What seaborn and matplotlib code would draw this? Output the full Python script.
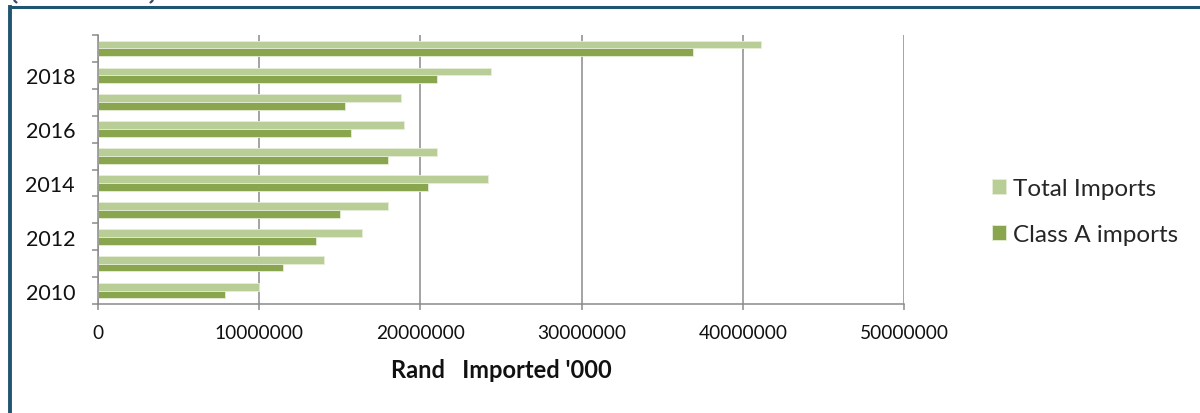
import matplotlib
matplotlib.use("Agg")
import matplotlib.pyplot as plt
from matplotlib.lines import Line2D
from matplotlib.ticker import FixedLocator, StrMethodFormatter
import numpy as np
import pandas as pd
import seaborn as sns

# Import values (Rand '000), listed from 2019 down to 2010
years = [2019, 2018, 2017, 2016, 2015, 2014, 2013, 2012, 2011, 2010]
total_imports = [41100000, 24400000, 18800000, 19000000, 21000000,
                 24200000, 18000000, 16400000, 14000000, 10000000]
class_a_imports = [36900000, 21000000, 15300000, 15700000, 18000000,
                   20500000, 15000000, 13500000, 11500000, 7900000]
series_names = ["Total Imports", "Class A imports"]
year_labels = ["", "2018", "", "2016", "", "2014", "", "2012", "", "2010"]
x_ticks = [0, 10000000, 20000000, 30000000, 40000000, 50000000]
x_title = "Rand   Imported '000"

df = pd.DataFrame({
    "year": [str(y) for y in years] * 2,
    "series": [series_names[0]] * len(years) + [series_names[1]] * len(years),
    "value": total_imports + class_a_imports,
})

sns.set_theme(style="white")
plt.rcParams["font.family"] = ["Lato", "DejaVu Sans"]

W, H = 1200, 414
fig = plt.figure(figsize=(W / 100, H / 100), dpi=100)
ax = fig.add_axes([98 / W, 1 - 305 / H, (904 - 98) / W, (305 - 36) / H])

palette = {"Total Imports": "#b9ce96", "Class A imports": "#89a64f"}
sns.barplot(data=df, y="year", x="value", hue="series",
            order=[str(y) for y in years], hue_order=series_names,
            palette=palette, orient="h", width=0.58, ax=ax,
            edgecolor="#e6eed9", linewidth=0.6, saturation=1, legend=True)

grid_c = "#8a8a8a"
ax.set_xlim(0, 50000000)
ax.set_ylim(len(years) - 0.5, -0.5)

# x axis: plain integer labels, ticks pointing down, vertical gridlines
ax.xaxis.set_major_locator(FixedLocator(x_ticks))
ax.xaxis.set_major_formatter(StrMethodFormatter("{x:.0f}"))
ax.tick_params(axis="x", which="major", bottom=True, length=4.3, width=1.1,
               color=grid_c, pad=10, labelsize=13.8, labelcolor="#111111")
ax.grid(axis="x", color=grid_c, linewidth=1.1)
ax.set_axisbelow(True)

# y axis: every other year labelled, tick marks between categories
ax.set_yticks(range(len(years)))
ax.set_yticklabels(year_labels)
ax.yaxis.set_minor_locator(FixedLocator(np.arange(-0.5, len(years), 1.0)))
ax.tick_params(axis="y", which="major", left=False, length=0, pad=16.5,
               labelsize=15.5, labelcolor="#111111")
ax.tick_params(axis="y", which="minor", left=True, length=4.3, width=1.1,
               color=grid_c)

for side in ["top", "right"]:
    ax.spines[side].set_visible(False)
for side in ["left", "bottom"]:
    ax.spines[side].set_color(grid_c)
    ax.spines[side].set_linewidth(1.1)

ax.set_ylabel("")
ax.set_xlabel(x_title, fontsize=17, fontweight="bold", color="#111111")
ax.xaxis.set_label_coords(0.5, (305 - 370) / (305 - 36))
ax.xaxis.label.set_va("center")

handles, labels = ax.get_legend_handles_labels()
ax.legend(handles, labels, loc="center left",
          bbox_to_anchor=(992 / W, 1 - 212.5 / H), bbox_transform=fig.transFigure,
          frameon=False, fontsize=17.5, handlelength=0.58, handleheight=0.58,
          handletextpad=0.29, labelspacing=1.0, borderpad=0, borderaxespad=0)

# outer frame lines along the left and top edges
frame_c = "#1f5570"
fig.add_artist(Line2D([10 / W, 10 / W], [0, 1 - 7.5 / H], transform=fig.transFigure,
                      color=frame_c, linewidth=2.8, solid_capstyle="projecting"))
fig.add_artist(Line2D([10 / W, 1], [1 - 7.5 / H, 1 - 7.5 / H], transform=fig.transFigure,
                      color=frame_c, linewidth=2.2, solid_capstyle="butt"))

# lower tips of the bracket strokes peeking in at the top edge
for xs in ([14, 14.6, 16.5], [153, 152.4, 150.5]):
    fig.add_artist(Line2D([x / W for x in xs], [1, 1 - 1.8 / H, 1 - 3.5 / H],
                          transform=fig.transFigure, color="#3b4a66", linewidth=1.6))

fig.savefig("out.png", dpi=100)
